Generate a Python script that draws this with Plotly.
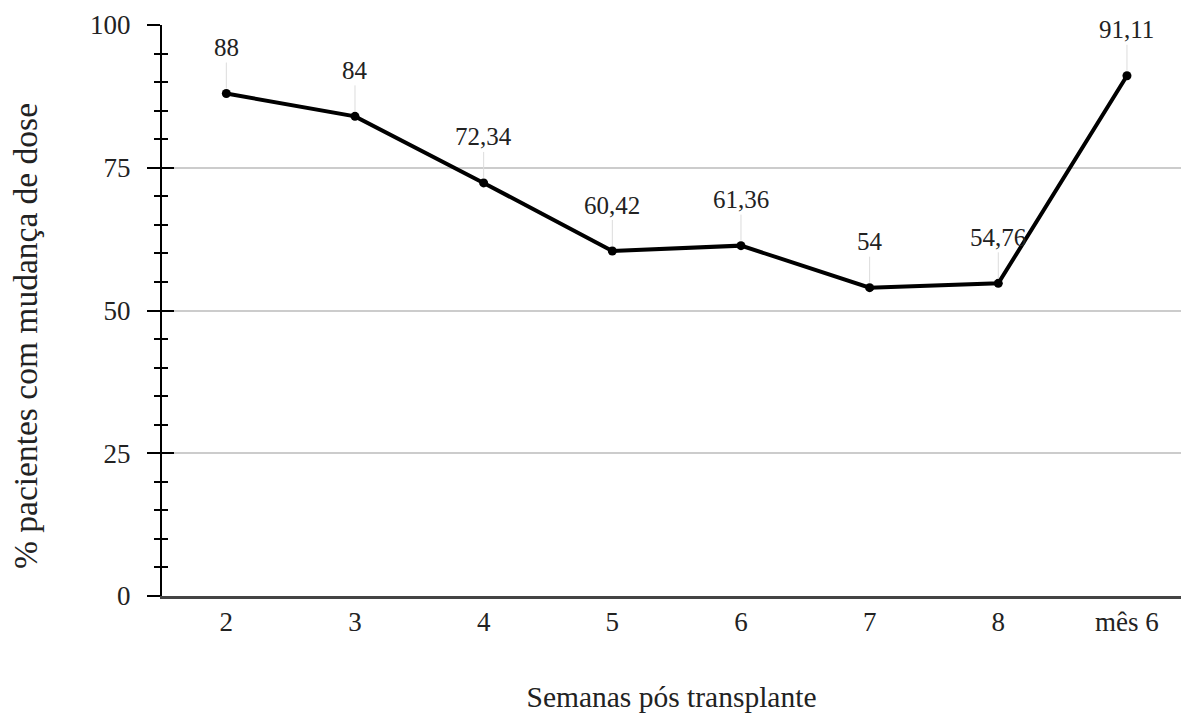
import plotly.graph_objects as go

categories = ["2", "3", "4", "5", "6", "7", "8", "mês 6"]
values = [88, 84, 72.34, 60.42, 61.36, 54, 54.76, 91.11]
labels = [f"{v:g}".replace(".", ",") for v in values]
y_ticks = [0, 25, 50, 75, 100]

FONT = "Liberation Serif, Times New Roman, serif"
TXT = "#222222"
W, H = 1181, 713
ML, MT, MB = 162, 25, 117
PW, PH = W - ML, H - MT - MB

fig = go.Figure()
fig.add_trace(go.Scatter(
    x=categories, y=values, mode="lines+markers",
    line=dict(color="black", width=4),
    marker=dict(color="black", size=9),
    hoverinfo="skip", showlegend=False,
))
# invisible trace to activate overlay axis (for ticks crossing the axis line)
fig.add_trace(go.Scatter(x=categories, y=values, yaxis="y2", mode="none",
                         showlegend=False, hoverinfo="skip"))

for i, (v, t) in enumerate(zip(values, labels)):
    fig.add_annotation(
        x=i, y=v, text=t, showarrow=True, ax=0, ay=-46,
        arrowhead=0, arrowwidth=1, arrowcolor="#dcdcdc", standoff=5,
        font=dict(family=FONT, size=25, color=TXT),
    )

# y-axis title
fig.add_annotation(
    text="% pacientes com mudança de dose", textangle=-90,
    xref="paper", yref="paper", x=-(ML - 25) / PW, y=(596 - 336) / PH,
    xanchor="center", yanchor="middle", showarrow=False,
    font=dict(family=FONT, size=33.5, color=TXT),
)

fig.update_layout(
    width=W, height=H,
    margin=dict(l=ML, r=0, t=MT, b=MB),
    plot_bgcolor="white", paper_bgcolor="white",
    font=dict(family=FONT, size=26, color=TXT),
    xaxis=dict(
        type="category", range=[-0.5, 7.42], automargin=False,
        showgrid=False, showline=True, linecolor="#444444", linewidth=2.5,
        ticks="", ticklabelstandoff=0,
        title=dict(text="Semanas pós transplante", standoff=51,
                   font=dict(family=FONT, size=29.5, color=TXT)),
        tickfont=dict(family=FONT, size=27, color=TXT),
    ),
    yaxis=dict(
        range=[0, 100], tickvals=y_ticks, automargin=False,
        showgrid=True, gridcolor="#cccccc", gridwidth=1.5,
        showline=True, linecolor="black", linewidth=2,
        ticks="outside", ticklen=13, tickwidth=2, tickcolor="black",
        minor=dict(dtick=5, ticks="outside", ticklen=6, tickwidth=2,
                   tickcolor="black", showgrid=False),
        zeroline=False, ticklabelstandoff=11,
        tickfont=dict(family=FONT, size=27, color=TXT),
    ),
    yaxis2=dict(
        overlaying="y", side="left", range=[0, 100], tickvals=y_ticks,
        showgrid=False, showline=False, zeroline=False, automargin=False,
        ticks="inside", ticklen=12, tickwidth=2, tickcolor="black",
        showticklabels=False,
        minor=dict(dtick=5, ticks="inside", ticklen=6, tickwidth=2,
                   tickcolor="black", showgrid=False),
    ),
)

fig.write_html("out.html", config={"displayModeBar": False},
               post_script="document.body.style.margin='0px';")
